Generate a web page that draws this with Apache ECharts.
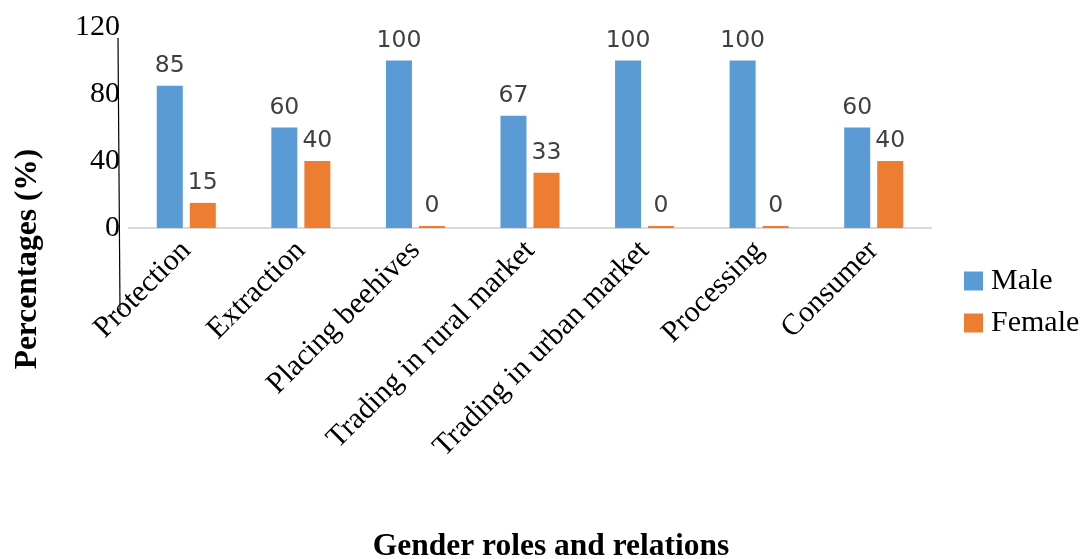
<!DOCTYPE html>
<html>
<head>
<meta charset="utf-8">
<script src="https://cdn.jsdelivr.net/npm/echarts@6/dist/echarts.min.js"></script>
<style>
  html, body { margin: 0; padding: 0; background: #fff; }
  #chart { width: 1092px; height: 559px; }
</style>
</head>
<body>
<div id="chart"></div>
<script>
// Gender roles in the honey value chain, share of each role (%)
const categories = ['Protection', 'Extraction', 'Placing beehives', 'Trading in rural market',
                    'Trading in urban market', 'Processing', 'Consumer'];
const maleValues = [85, 60, 100, 67, 100, 100, 60];
const femaleValues = [15, 40, 0, 33, 0, 0, 40];
const yTicks = [0, 40, 80, 120];
const xTitle = 'Gender roles and relations';
const yTitle = 'Percentages (%)';

const serif = '"Liberation Serif", "Times New Roman", serif';
const sans = '"DejaVu Sans", sans-serif';

const chart = echarts.init(document.getElementById('chart'), null, { renderer: 'canvas' });

const valueLabel = {
  show: true,
  position: 'top',
  distance: 8,
  color: '#404040',
  fontFamily: sans,
  fontSize: 23.5
};

const titleStyle = {
  fill: '#000',
  font: 'bold 31.5px ' + serif,
  align: 'center',
  verticalAlign: 'middle'
};

chart.setOption({
  animation: false,
  backgroundColor: '#ffffff',
  grid: { left: 129, right: 161, top: 27, bottom: 331, outerBoundsMode: 'none', containLabel: false },
  legend: {
    orient: 'vertical',
    left: 964,
    top: 266,
    padding: 0,
    itemWidth: 19,
    itemHeight: 19,
    itemGap: 12,
    icon: 'rect',
    textStyle: { fontFamily: serif, fontSize: 30, lineHeight: 30, color: '#000', padding: [0, 0, 0, 3] },
    data: ['Male', 'Female']
  },
  xAxis: {
    type: 'category',
    data: categories,
    axisLine: { show: true, lineStyle: { color: '#d9d9d9', width: 2 } },
    axisTick: { show: false },
    axisLabel: {
      interval: 0,
      rotate: 45,
      margin: 18,
      fontFamily: serif,
      fontSize: 30,
      color: '#000'
    }
  },
  yAxis: {
    type: 'value',
    min: yTicks[0],
    max: yTicks[yTicks.length - 1],
    interval: 40,
    axisLine: { show: false },
    axisTick: { show: false },
    splitLine: { show: false },
    axisLabel: { margin: 9, padding: [5, 0, 0, 0], fontFamily: serif, fontSize: 30, color: '#000' }
  },
  graphic: [
    {
      type: 'line',
      shape: { x1: 118, y1: 38, x2: 120, y2: 310 },
      style: { stroke: '#000', lineWidth: 1.2 },
      silent: true
    },
    {
      type: 'text',
      x: 551, y: 547,
      style: Object.assign({ text: xTitle }, titleStyle),
      silent: true
    },
    {
      type: 'text',
      x: 28, y: 259,
      rotation: Math.PI / 2,
      style: Object.assign({ text: yTitle }, titleStyle),
      silent: true
    }
  ],
  series: [
    {
      name: 'Male',
      type: 'bar',
      data: maleValues,
      barWidth: 26,
      barGap: '27%',
      barMinHeight: 2,
      itemStyle: { color: '#5b9bd5' },
      label: valueLabel
    },
    {
      name: 'Female',
      type: 'bar',
      data: femaleValues,
      barWidth: 26,
      barGap: '27%',
      barMinHeight: 2,
      itemStyle: { color: '#ed7d31' },
      label: valueLabel
    }
  ]
});
</script>
</body>
</html>
